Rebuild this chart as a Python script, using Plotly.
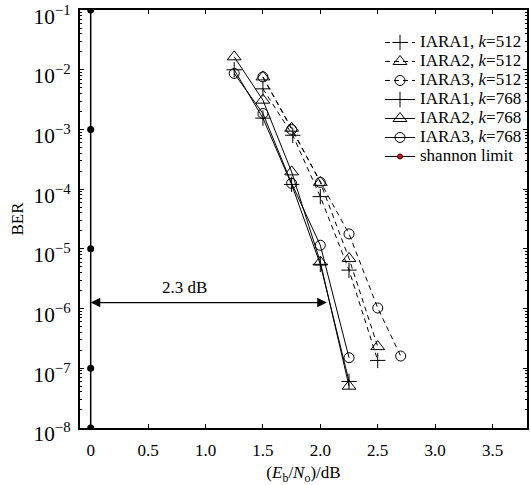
import math
import plotly.graph_objects as go

# ---- data ----
x768 = [1.25, 1.5, 1.75, 2.0, 2.25]
iara1_768 = [1.0e-2, 1.55e-3, 1.2e-4, 5.5e-6, 6.0e-8]
iara2_768 = [1.65e-2, 3.1e-3, 1.95e-4, 6.0e-6, 5.0e-8]
iara3_768 = [8.7e-3, 1.85e-3, 1.25e-4, 1.15e-5, 1.5e-7]

x512_1 = [1.5, 1.76, 2.0, 2.25, 2.5]
iara1_512 = [4.8e-3, 8.0e-4, 7.5e-5, 4.4e-6, 1.35e-7]
x512_2 = [1.5, 1.75, 2.0, 2.25, 2.5]
iara2_512 = [7.6e-3, 1.05e-3, 1.3e-4, 6.9e-6, 2.3e-7]
x512_3 = [1.5, 1.75, 2.0, 2.25, 2.5, 2.7]
iara3_512 = [7.6e-3, 1.0e-3, 1.3e-4, 1.78e-5, 1.02e-6, 1.6e-7]

shannon_x = [0.0, 0.0, 0.0, 0.0, 0.0]
shannon_y = [1e-1, 1e-3, 1e-5, 1e-7, 1e-8]

arrow_from_x, arrow_to_x, arrow_y = 2.07, 0.0, 1.26e-6
arrow_label = "2.3 dB"

xtick_vals = [0, 0.5, 1.0, 1.5, 2.0, 2.5, 3.0, 3.5]
xtick_text = ["0", "0.5", "1.0", "1.5", "2.0", "2.5", "3.0", "3.5"]

FONT = "Liberation Serif"
BLACK = "black"
LEG_PX = 17


def leg(txt):
    return f'<span style="font-size:{LEG_PX}px">{txt}</span>'


fig = go.Figure()


def add(x, y, name, symbol, dash, size):
    fig.add_trace(go.Scatter(
        x=x, y=y, name=leg(name), mode="lines+markers",
        line=dict(color=BLACK, width=1, dash=dash),
        marker=dict(symbol=symbol, size=size, color=BLACK,
                    line=dict(color=BLACK, width=1)),
    ))


dash = "5px,4px"
add(x512_1, iara1_512, "IARA1, <i>k</i>=512", "cross-thin-open", dash, 11)
add(x512_2, iara2_512, "IARA2, <i>k</i>=512", "triangle-up-open", dash, 12)
add(x512_3, iara3_512, "IARA3, <i>k</i>=512", "circle-open", dash, 10)
add(x768, iara1_768, "IARA1, <i>k</i>=768", "cross-thin-open", "solid", 11)
add(x768, iara2_768, "IARA2, <i>k</i>=768", "triangle-up-open", "solid", 12)
add(x768, iara3_768, "IARA3, <i>k</i>=768", "circle-open", "solid", 10)

fig.add_trace(go.Scatter(
    x=shannon_x, y=shannon_y, mode="lines+markers", showlegend=False,
    line=dict(color=BLACK, width=1.5),
    marker=dict(symbol="circle", size=7, color=BLACK),
))
fig.add_trace(go.Scatter(
    x=[None], y=[None], name=leg("shannon limit"), mode="lines+markers",
    line=dict(color=BLACK, width=1),
    marker=dict(symbol="circle", size=5, color="#d01010",
                line=dict(color="#400000", width=1)),
))

fig.add_annotation(
    x=arrow_to_x, y=math.log10(arrow_y), ax=arrow_from_x, ay=math.log10(arrow_y),
    xref="x", yref="y", axref="x", ayref="y",
    showarrow=True, arrowhead=2, arrowside="end+start", arrowsize=1.6,
    arrowwidth=1.2, arrowcolor=BLACK, text="",
)
fig.add_annotation(
    x=(arrow_from_x + arrow_to_x) / 2 - 0.22, y=math.log10(arrow_y),
    xref="x", yref="y", text=arrow_label, showarrow=False,
    yanchor="bottom", yshift=4, font=dict(family=FONT, size=17, color=BLACK),
)

axis_common = dict(
    showline=True, linecolor=BLACK, linewidth=2, mirror="ticks",
    ticks="inside", tickcolor=BLACK, ticklen=4, tickwidth=1,
    showgrid=False, zeroline=False, automargin=False,
    tickfont=dict(family=FONT, size=17, color=BLACK),
)

fig.update_layout(
    width=530, height=485,
    margin=dict(l=80, r=3, t=10, b=57),
    paper_bgcolor="white", plot_bgcolor="white",
    font=dict(family=FONT, color=BLACK),
    showlegend=True,
    legend=dict(
        x=1.0, y=0.957, xanchor="right", yanchor="top",
        bgcolor="rgba(0,0,0,0)", borderwidth=0,
        font=dict(family=FONT, size=12, color=BLACK),
        tracegroupgap=0, itemwidth=30,
    ),
    xaxis=dict(
        range=[-0.093, 3.80], tickvals=xtick_vals, ticktext=xtick_text,
        ticklabelstandoff=6,
        title=dict(text="(<i>E</i><sub>b</sub>/<i>N</i><sub>o</sub>)/dB",
                   font=dict(family=FONT, size=17, color=BLACK), standoff=22),
        **axis_common,
    ),
    yaxis=dict(
        type="log", range=[-8.002, -0.998], dtick=1, exponentformat="power",
        ticklabelstandoff=4, ticklabeloverflow="allow", ticklabelshift=6,
        title=dict(text="BER", font=dict(family=FONT, size=17, color=BLACK), standoff=6),
        minor=dict(ticks="inside", ticklen=2, tickcolor=BLACK, showgrid=False),
        **axis_common,
    ),
)

fig.write_html("out.html")
